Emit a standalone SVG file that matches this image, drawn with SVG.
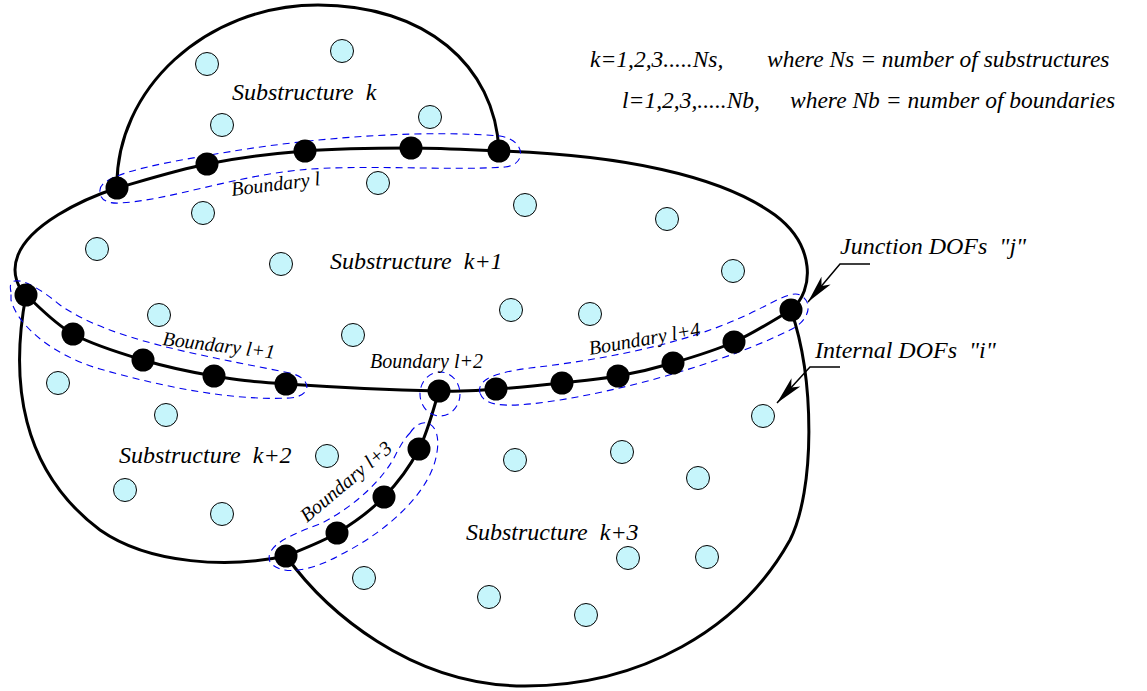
<svg xmlns="http://www.w3.org/2000/svg" width="1147" height="691" viewBox="0 0 1147 691">
  <style>
    .edge { fill: none; stroke: #000; stroke-width: 3; stroke-linecap: round; stroke-linejoin: round; }
    .bnd { fill: none; stroke: #0000ee; stroke-width: 1.1; stroke-dasharray: 7 5; }
    .dof { fill: #c6f5fb; stroke: #000; stroke-width: 1; }
    .jn { fill: #000; }
    .lbl { font-family: "Liberation Serif", "Times New Roman", serif; font-style: italic; fill: #000; white-space: pre; }
    .big { font-size: 24px; }
    .small { font-size: 20px; }
    .note { font-size: 23.5px; }
    .lead { fill: none; stroke: #000; stroke-width: 1.5; }
  </style>
  <defs>
    <marker id="head" markerUnits="userSpaceOnUse" markerWidth="40" markerHeight="20" viewBox="-30 -10 32 20" refX="0" refY="0" orient="auto">
      <path d="M0,0 L-28,-6 L-21,0 L-28,6 Z" fill="#000"/>
    </marker>
  </defs>
  <rect width="1147" height="691" fill="#fff"/>

  <!-- Substructure outlines -->
  <g id="outlines">
    <!-- substructure k dome -->
    <path class="edge" d="M117,188 C115,90 205,5 318,5 C425,5 495,65 499,151"/>
    <!-- substructure k+1 left and right sides -->
    <path class="edge" d="M117,188 C80,200 30,225 18,255 C10,275 20,290 26,295"/>
    <path class="edge" d="M499,151 C620,155 720,175 775,215 C815,245 815,290 791,310"/>
    <!-- substructure k+2 outer side -->
    <path class="edge" d="M26,295 C10,380 20,470 100,530 C150,565 230,568 286,556"/>
    <!-- substructure k+3 outer side -->
    <path class="edge" d="M286,556 C325,610 410,686 525,686 C640,686 740,630 790,540 C815,490 815,380 791,310"/>
  </g>

  <!-- Interface lines between substructures -->
  <g id="interfaces">
    <path class="edge" d="M117,188 C132,184 175.7,170.2 207,164 C238.3,157.8 271,153.7 305,151 C339,148.3 378.7,148 411,148 C443.3,148 484.3,150.5 499,151"/>
    <path class="edge" d="M26,295 C33.8,301.5 53.5,323.2 73,334 C92.5,344.8 119.5,353 143,360 C166.5,367 190.2,372 214,376 C237.8,380 248.5,381.5 286,384 C323.5,386.5 404,390.2 439,391 C474,391.8 475.5,390.3 496,389 C516.5,387.7 541.7,385.2 562,383 C582.3,380.8 599.5,379.3 618,376 C636.5,372.7 653.7,368.7 673,363 C692.3,357.3 714.3,350.8 734,342 C753.7,333.2 781.5,315.3 791,310"/>
    <path class="edge" d="M439,391 C435.7,400.7 428.2,431.3 419,449 C409.8,466.7 397.7,483 384,497 C370.3,511 353.3,523.2 337,533 C320.7,542.8 294.5,552.2 286,556"/>
  </g>

  <!-- Boundary groupings (dashed) -->
  <g id="boundary-l">
    <path class="bnd" d="M100,190 C100,172 180,160 240,150 C330,136 430,130 500,136 C526,140 527,165 505,167 C450,171 360,164 300,170 C230,177 170,200 120,203 C105,204 99,198 100,190 Z"/>
    <text class="lbl small" transform="translate(232,196) rotate(-7)">Boundary l</text>
  </g>
  <g id="boundary-l1">
    <path class="bnd" d="M11,292 C6,272 30,280 60,305 C110,340 200,355 290,373 C312,378 313,396 290,398 C230,401 160,386 100,369 C55,356 18,327 11,300 Z"/>
    <text class="lbl small" transform="translate(162,345) rotate(7)">Boundary l+1</text>
  </g>
  <g id="boundary-l2">
    <ellipse class="bnd" cx="440" cy="394" rx="20" ry="22"/>
    <text class="lbl small" x="370" y="368">Boundary l+2</text>
  </g>
  <g id="boundary-l3">
    <path class="bnd" d="M410,433 C422,414 442,422 437,452 C432,490 390,530 340,555 C310,572 280,576 270,562 C264,546 290,535 320,524 C358,505 385,476 395,456 C400,446 405,438 410,433 Z"/>
    <text class="lbl small" transform="translate(307,523) rotate(-40)">Boundary l+3</text>
  </g>
  <g id="boundary-l4">
    <path class="bnd" d="M480,393 C476,378 500,372 530,368 C600,360 680,345 740,318 C770,305 790,290 800,295 C815,303 808,322 790,330 C740,355 650,385 560,400 C520,406 485,410 480,393 Z"/>
    <text class="lbl small" transform="translate(590,355) rotate(-10)">Boundary l+4</text>
  </g>

  <!-- Junction DOFs -->
  <g id="junction-dofs">
    <circle class="jn" cx="117" cy="188" r="11.5"/>
    <circle class="jn" cx="207" cy="164" r="11.5"/>
    <circle class="jn" cx="305" cy="151" r="11.5"/>
    <circle class="jn" cx="411" cy="148" r="11.5"/>
    <circle class="jn" cx="499" cy="151" r="11.5"/>
    <circle class="jn" cx="26" cy="295" r="11.5"/>
    <circle class="jn" cx="73" cy="334" r="11.5"/>
    <circle class="jn" cx="143" cy="360" r="11.5"/>
    <circle class="jn" cx="214" cy="376" r="11.5"/>
    <circle class="jn" cx="286" cy="384" r="11.5"/>
    <circle class="jn" cx="439" cy="391" r="11.5"/>
    <circle class="jn" cx="496" cy="389" r="11.5"/>
    <circle class="jn" cx="562" cy="383" r="11.5"/>
    <circle class="jn" cx="618" cy="376" r="11.5"/>
    <circle class="jn" cx="673" cy="363" r="11.5"/>
    <circle class="jn" cx="734" cy="342" r="11.5"/>
    <circle class="jn" cx="791" cy="310" r="11.5"/>
    <circle class="jn" cx="419" cy="449" r="11.5"/>
    <circle class="jn" cx="384" cy="497" r="11.5"/>
    <circle class="jn" cx="337" cy="533" r="11.5"/>
    <circle class="jn" cx="286" cy="556" r="11.5"/>
  </g>

  <!-- Substructure k -->
  <g id="substructure-k">
    <circle class="dof" cx="342" cy="51" r="11.5"/>
    <circle class="dof" cx="207" cy="64" r="11.5"/>
    <circle class="dof" cx="222" cy="125" r="11.5"/>
    <circle class="dof" cx="430" cy="117" r="11.5"/>
    <text class="lbl big" x="232" y="100" xml:space="preserve">Substructure  k</text>
  </g>

  <!-- Substructure k+1 -->
  <g id="substructure-k1">
    <circle class="dof" cx="378" cy="183" r="11.5"/>
    <circle class="dof" cx="203" cy="213" r="11.5"/>
    <circle class="dof" cx="525" cy="205" r="11.5"/>
    <circle class="dof" cx="667" cy="219" r="11.5"/>
    <circle class="dof" cx="97" cy="249" r="11.5"/>
    <circle class="dof" cx="281" cy="264" r="11.5"/>
    <circle class="dof" cx="733" cy="271" r="11.5"/>
    <circle class="dof" cx="159" cy="315" r="11.5"/>
    <circle class="dof" cx="353" cy="335" r="11.5"/>
    <circle class="dof" cx="511" cy="310" r="11.5"/>
    <circle class="dof" cx="590" cy="314" r="11.5"/>
    <text class="lbl big" x="330" y="269" xml:space="preserve">Substructure  k+1</text>
  </g>

  <!-- Substructure k+2 -->
  <g id="substructure-k2">
    <circle class="dof" cx="58" cy="383" r="11.5"/>
    <circle class="dof" cx="166" cy="415" r="11.5"/>
    <circle class="dof" cx="327" cy="456" r="11.5"/>
    <circle class="dof" cx="125" cy="490" r="11.5"/>
    <circle class="dof" cx="222" cy="514" r="11.5"/>
    <text class="lbl big" x="119" y="463" xml:space="preserve">Substructure  k+2</text>
  </g>

  <!-- Substructure k+3 -->
  <g id="substructure-k3">
    <circle class="dof" cx="515" cy="460" r="11.5"/>
    <circle class="dof" cx="622" cy="452" r="11.5"/>
    <circle class="dof" cx="698" cy="478" r="11.5"/>
    <circle class="dof" cx="763" cy="416" r="11.5"/>
    <circle class="dof" cx="628" cy="558" r="11.5"/>
    <circle class="dof" cx="707" cy="557" r="11.5"/>
    <circle class="dof" cx="364" cy="578" r="11.5"/>
    <circle class="dof" cx="489" cy="597" r="11.5"/>
    <circle class="dof" cx="586" cy="615" r="11.5"/>
    <text class="lbl big" x="466" y="540" xml:space="preserve">Substructure  k+3</text>
  </g>

  <!-- Leader arrows -->
  <g id="connectors">
    <path class="lead" d="M870,264 L840,264 L808,302" marker-end="url(#head)"/>
    <path class="lead" d="M840,367 L810,367 L777,403" marker-end="url(#head)"/>
  </g>

  <!-- Annotations -->
  <g id="annotations">
    <text class="lbl big" x="840" y="254" xml:space="preserve">Junction DOFs  "j"</text>
    <text class="lbl big" x="815" y="358" xml:space="preserve">Internal DOFs  "i"</text>
    <text class="lbl note" y="67"><tspan x="590">k=1,2,3.....Ns,</tspan><tspan x="767">where Ns = number of substructures</tspan></text>
    <text class="lbl note" y="108"><tspan x="622">l=1,2,3,.....Nb,</tspan><tspan x="790">where Nb = number of boundaries</tspan></text>
  </g>
</svg>
